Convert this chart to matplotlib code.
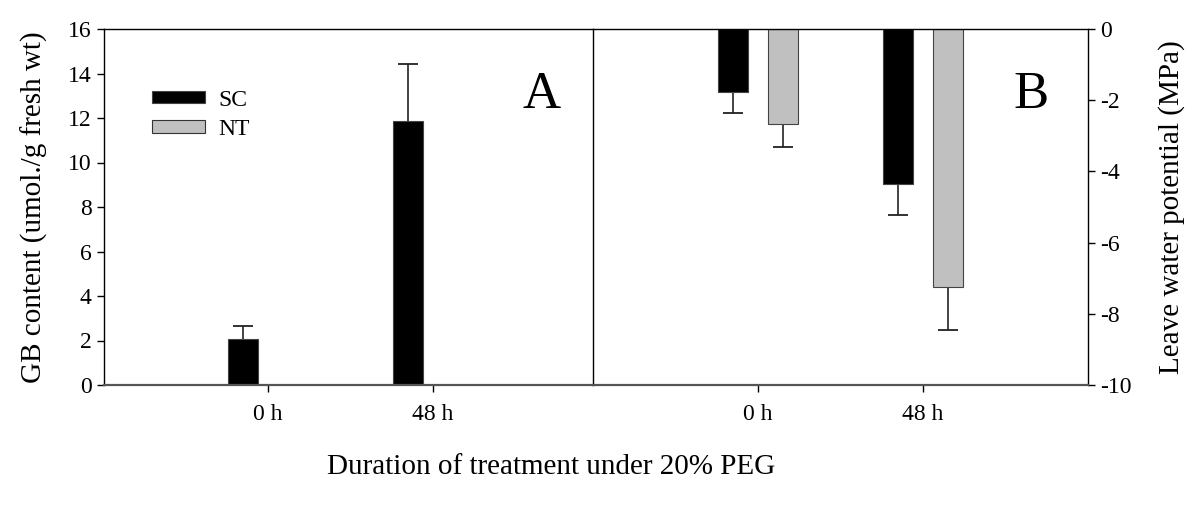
import matplotlib
matplotlib.use("Agg")
import matplotlib.pyplot as plt
import numpy as np
from matplotlib.patches import Patch

plt.rcParams['font.family'] = ['Liberation Serif', 'DejaVu Serif']
plt.rcParams['axes.unicode_minus'] = False

times = ["0 h", "48 h"]
gb_sc = [2.05, 11.85]
gb_sc_err = [0.62, 2.58]
gb_nt = [0.0, 0.0]

lwp_sc = [-1.77, -4.34]
lwp_sc_err = [0.59, 0.88]
lwp_nt = [-2.67, -7.24]
lwp_nt_err = [0.64, 1.22]

sc_color = "black"
nt_color = "#c0c0c0"
edge = "#444444"

fig = plt.figure(figsize=(12, 5.05), dpi=100)
axA = fig.add_axes([104/1200, 1-385/505, 489/1200, 356/505])
axB = fig.add_axes([593/1200, 1-385/505, 495/1200, 356/505])
axB.patch.set_alpha(0)

x = np.arange(len(times))
w = 30/165
off = 25/165


def one_sided_err(ax, xs, ys, errs, sign):
    xs = np.asarray(xs)
    ys = np.asarray(ys)
    ends = ys + sign * np.asarray(errs)
    ax.vlines(xs, ys, ends, color="#222222", linewidth=1.2, zorder=1)
    ax.plot(xs, ends, linestyle="none", marker="_", markersize=14,
            markeredgewidth=1.3, color="#222222", zorder=3)


# Panel A
axA.bar(x - off, gb_sc, w, color=sc_color, edgecolor=edge, linewidth=0.8, zorder=2)
axA.bar(x + off, gb_nt, w, color=nt_color, edgecolor=edge, linewidth=0.0, zorder=2)
one_sided_err(axA, x - off, gb_sc, gb_sc_err, +1)
axA.set_xlim(-0.994, 1.97)
axA.set_ylim(0, 16)
axA.set_yticks(np.arange(0, 17, 2))
axA.set_xticks(x)
axA.set_xticklabels(times)
axA.set_ylabel("GB content (umol./g fresh wt)", fontsize=21, labelpad=14)
axA.text(0.894, 0.815, "A", transform=axA.transAxes, fontsize=38, ha="center", va="center")
handles = [Patch(facecolor=sc_color, edgecolor=edge, linewidth=0.8, label="SC"),
           Patch(facecolor=nt_color, edgecolor="#333333", linewidth=0.8, label="NT")]
axA.legend(handles=handles, loc="upper left", bbox_to_anchor=(0.098, 0.83), frameon=False,
           fontsize=17, handlelength=2.25, handleheight=0.45, handletextpad=0.55, labelspacing=0.35,
           borderaxespad=0, borderpad=0)

# Panel B
axB.bar(x - off, lwp_sc, w, color=sc_color, edgecolor=edge, linewidth=0.8, zorder=2)
axB.bar(x + off, lwp_nt, w, color=nt_color, edgecolor=edge, linewidth=0.8, zorder=2)
one_sided_err(axB, x - off, lwp_sc, lwp_sc_err, -1)
one_sided_err(axB, x + off, lwp_nt, lwp_nt_err, -1)
axB.set_xlim(-1.0, 2.0)
axB.set_ylim(-10, 0)
axB.set_yticks(np.arange(-10, 1, 2))
axB.set_xticks(x)
axB.set_xticklabels(times)
axB.yaxis.tick_right()
axB.yaxis.set_label_position("right")
axB.set_ylabel("Leave water potential (MPa)", fontsize=21, labelpad=19)
axB.text(0.885, 0.815, "B", transform=axB.transAxes, fontsize=38, ha="center", va="center")

for ax in (axA, axB):
    for s in ax.spines.values():
        s.set_linewidth(1.0)
        s.set_color("black")
    ax.spines['bottom'].set_color("#555555")
    ax.spines['bottom'].set_linewidth(1.6)
    ax.tick_params(axis="both", direction="out", length=5, width=1, labelsize=17, pad=4)
    ax.tick_params(axis="x", pad=9, length=5)
axB.spines['left'].set_visible(False)

fig.text(551/1200, 1-467/505, "Duration of treatment under 20% PEG", fontsize=21, ha="center", va="center")

fig.savefig("out.png", dpi=100)
